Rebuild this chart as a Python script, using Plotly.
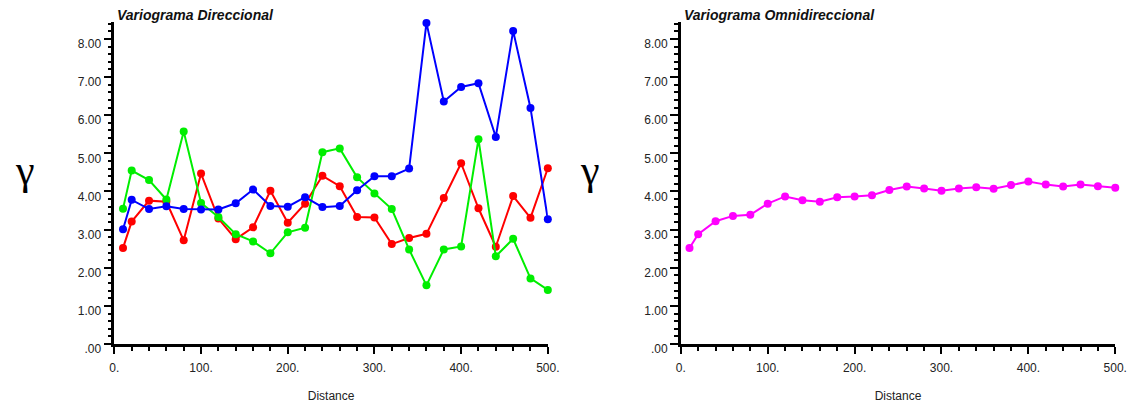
import plotly.graph_objects as go

# ---- data ----
lags = [10, 20, 40, 60, 80, 100, 120, 140, 160, 180, 200, 220, 240, 260,
        280, 300, 320, 340, 360, 380, 400, 420, 440, 460, 480, 500]

dir_blue = [3.01, 3.78, 3.54, 3.61, 3.54, 3.53, 3.53, 3.69, 4.05, 3.62, 3.60, 3.85, 3.59,
            3.62, 4.03, 4.40, 4.40, 4.60, 8.42, 6.36, 6.74, 6.84, 5.43, 8.21, 6.19, 3.27]
dir_red = [2.52, 3.21, 3.76, 3.73, 2.72, 4.47, 3.29, 2.75, 3.06, 4.02, 3.18, 3.68, 4.41,
           4.14, 3.33, 3.32, 2.62, 2.78, 2.89, 3.83, 4.74, 3.56, 2.55, 3.88, 3.31, 4.61]
dir_green = [3.55, 4.55, 4.30, 3.79, 5.57, 3.70, 3.33, 2.88, 2.69, 2.38, 2.93, 3.05, 5.03,
             5.13, 4.37, 3.95, 3.54, 2.48, 1.54, 2.48, 2.56, 5.37, 2.30, 2.76, 1.72, 1.42]
omni = [2.52, 2.88, 3.22, 3.36, 3.39, 3.68, 3.87, 3.77, 3.73, 3.85, 3.87, 3.90, 4.04,
        4.13, 4.08, 4.02, 4.08, 4.11, 4.07, 4.17, 4.26, 4.18, 4.13, 4.18, 4.14, 4.10]

y_tick_vals = ["0.00", "1.00", "2.00", "3.00", "4.00", "5.00", "6.00", "7.00", "8.00"]
y_tick_text = [".00", "1.00", "2.00", "3.00", "4.00", "5.00", "6.00", "7.00", "8.00"]
x_tick_vals = ["0", "100", "200", "300", "400", "500"]
x_tick_text = ["0.", "100.", "200.", "300.", "400.", "500."]

titles = ["Variograma Direccional", "Variograma Omnidireccional"]

# ---- figure ----
fig = go.Figure()

def add_series(y, color, xa, ya):
    fig.add_trace(go.Scatter(
        x=lags, y=y, mode="lines+markers",
        line=dict(color=color, width=2),
        marker=dict(color=color, size=8),
        xaxis=xa, yaxis=ya, cliponaxis=False, showlegend=False))

add_series(dir_red, "#ff0000", "x", "y")
add_series(dir_green, "#00ee00", "x", "y")
add_series(dir_blue, "#0000ff", "x", "y")
add_series(omni, "#ff00ff", "x2", "y2")

W, H = 1145, 407
Y0, PX = 354.5, 39.3
YMAX = 8.45
ydom = [(H - Y0) / H, (H - (Y0 - YMAX * PX)) / H]
xdom1 = [111 / W, 551 / W]
xdom2 = [686 / W, 1127 / W]

font_fam = "Liberation Sans, Arial, sans-serif"

def xaxis_cfg(dom, anchor):
    return dict(domain=dom, anchor=anchor, range=[0, 500],
                tickmode="linear", tick0=0, dtick=100, tickformat="d",
                labelalias=dict(zip(x_tick_vals, x_tick_text)),
                ticks="outside", ticklen=7, tickwidth=2, tickcolor="black",
                minor=dict(dtick=20, tick0=0, ticks="outside",
                           ticklen=4, tickwidth=1.5, tickcolor="black", showgrid=False),
                showline=True, linecolor="black", linewidth=2.5,
                showgrid=False, zeroline=False, ticklabelstandoff=4,
                tickfont=dict(family=font_fam, size=12, color="#222"),
                title=dict(text="Distance", font=dict(family=font_fam, size=12, color="#222"),
                           standoff=18))

def yaxis_cfg(anchor):
    return dict(domain=ydom, anchor=anchor, range=[0, YMAX],
                tickmode="linear", tick0=0, dtick=1, tickformat=".2f",
                labelalias=dict(zip(y_tick_vals, y_tick_text)),
                ticks="outside", ticklen=8, tickwidth=2, tickcolor="black",
                minor=dict(dtick=0.2, tick0=0, ticks="outside",
                           ticklen=4, tickwidth=1.5, tickcolor="black", showgrid=False),
                showline=True, linecolor="black", linewidth=2.5,
                showgrid=False, zeroline=False, ticklabelshift=5,
                tickfont=dict(family=font_fam, size=12, color="#222"))

fig.update_layout(
    width=W, height=H,
    margin=dict(l=0, r=0, t=0, b=0),
    paper_bgcolor="white", plot_bgcolor="white",
    xaxis=xaxis_cfg(xdom1, "y"),
    yaxis=yaxis_cfg("x"),
    xaxis2=xaxis_cfg(xdom2, "y2"),
    yaxis2=yaxis_cfg("x2"),
)

annots = []
for xpos, t in zip([112 / W, 687 / W], titles):
    annots.append(dict(x=xpos, y=1 - 15 / H, xref="paper", yref="paper",
                       xanchor="left", yanchor="middle", showarrow=False,
                       text="<b><i>" + t + "</i></b>",
                       font=dict(family=font_fam, size=14, color="#111")))
for xpos in [20 / W, 594 / W]:
    annots.append(dict(x=xpos, y=1 - 175 / H, xref="paper", yref="paper",
                       xanchor="center", yanchor="middle", showarrow=False,
                       text="γ", font=dict(family="Liberation Serif, Times New Roman, serif",
                                           size=42, color="black")))
fig.update_layout(annotations=annots)

fig.write_html("out.html", config={"displayModeBar": False},
               post_script="document.body.style.margin='0';document.body.style.padding='0';")
